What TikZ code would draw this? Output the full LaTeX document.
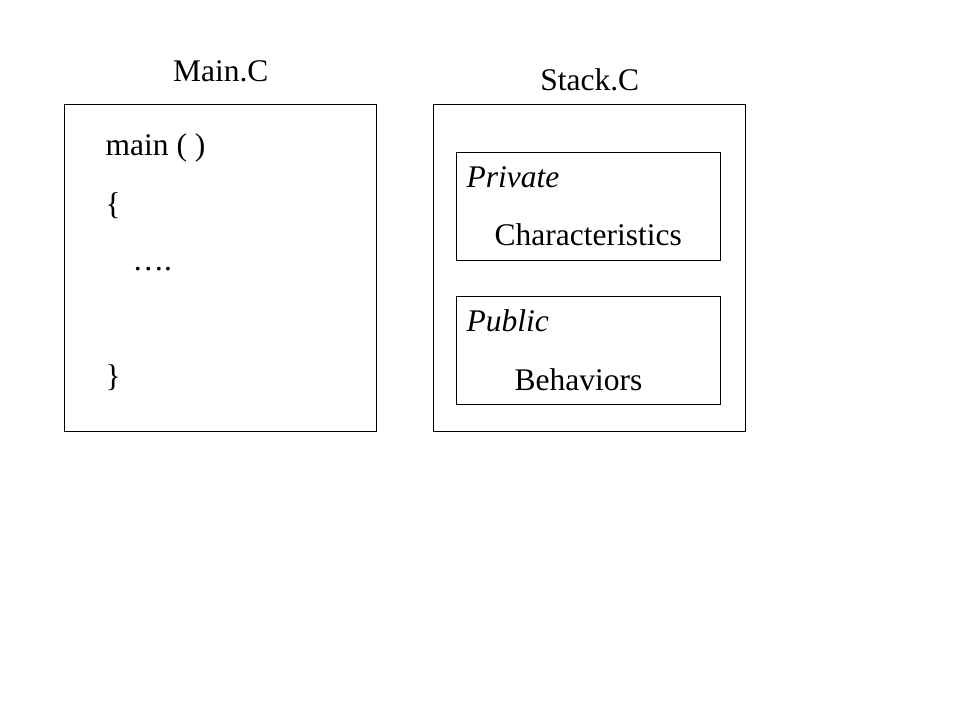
\documentclass[tikz,border=0pt]{standalone}
\usepackage{fontspec}
\setmainfont{Liberation Serif}
\usetikzlibrary{positioning}
\begin{document}
\begin{tikzpicture}[x=0.025cm, y=-0.025cm, line width=1pt,
    file box/.style={draw, inner sep=0, anchor=north west, minimum width=7.8cm, minimum height=8.175cm},
    part box/.style={draw, inner sep=0, anchor=north west, minimum width=6.6cm, minimum height=2.7cm},
    code/.style={inner sep=0, anchor=base west}]
  \tikzstyle{every node}=[font=\fontsize{22.4}{27}\selectfont]
  \useasboundingbox (0,0) rectangle (960,720);

  \node[file box] (main) at (64,104) {};
  \node[file box] (stack) at (433,104) {};
  \node[inner sep=0] (maintitle) [above=0.525cm of main] {Main.C};
  \node[inner sep=0] (stacktitle) [above=0.3cm of stack] {Stack.C};

  \node[code] (head) at (105,156) {main ( )};
  \node[code] (open) at (105,215) {\{};
  \node[code] (body) at (132,271) {….};
  \node[code] (close) at (105,387) {\}};

  \node[part box] (private) at (456,152) {};
  \node[part box] (public) at (456,296) {};
  \node[code] (privlabel) at (466,188) {\itshape Private};
  \node[code] (chars) at (494,246) {Characteristics};
  \node[code] (publabel) at (466,332) {\itshape Public};
  \node[code] (behav) at (514,391) {Behaviors};
\end{tikzpicture}
\end{document}
